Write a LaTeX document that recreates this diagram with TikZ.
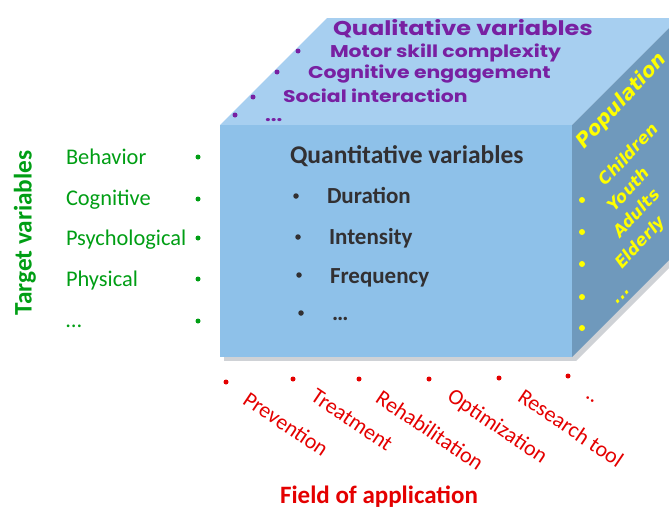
\documentclass[tikz,border=0pt]{standalone}
\usepackage{fontspec}
\setmainfont{Carlito}
\newfontfamily\poppfont{Poppins}
\newfontfamily\dvfont{DejaVu Sans}
\definecolor{frontc}{RGB}{142,193,233}
\definecolor{topc}{RGB}{167,207,240}
\definecolor{rightc}{RGB}{111,153,188}
\definecolor{shadc}{RGB}{175,180,186}
\definecolor{greenc}{RGB}{0,158,20}
\definecolor{redc}{RGB}{228,0,0}
\definecolor{purpc}{RGB}{120,32,162}
\definecolor{yellc}{RGB}{255,255,0}
\definecolor{darkc}{RGB}{50,48,50}
\tikzset{
  txt/.style={inner sep=0pt, outer sep=0pt},
  bul/.style={circle, inner sep=0pt, minimum size=5pt},
  gbul/.style={bul, fill=greenc},
  rbul/.style={bul, fill=redc},
  pbul/.style={bul, fill=purpc},
  ybul/.style={bul, fill=yellc, minimum size=6pt},
  dbul/.style={bul, fill=darkc, minimum size=5.5pt},
  gtxt/.style={txt, anchor=base west, text=greenc, font=\fontsize{22.4}{26}\selectfont},
  rtxt/.style={txt, text=redc, rotate=-34, font=\fontsize{22}{24}\selectfont},
  dtxt/.style={txt, anchor=base west, text=darkc, font=\fontsize{23}{26}\selectfont\bfseries},
  ptxt/.style={txt, anchor=base west, xscale=1.2, text=purpc, font=\poppfont\fontsize{17}{20}\selectfont\bfseries},
  ytxt/.style={txt, text=yellc, rotate=47, font=\dvfont\fontsize{16.5}{18}\selectfont\bfseries\itshape},
}
\begin{document}
\begin{tikzpicture}[x=1pt,y=-1pt]
\useasboundingbox (0,0) rectangle (669,506);
\begin{scope}
\clip (0,0) rectangle (669,506);
\fill[shadc, opacity=0.6] (224,128) rectangle (576,361);
\fill[shadc, opacity=0.6] (576,128) -- (683,21) -- (683,254) -- (576,361) -- cycle;
\fill[topc] (220,125) -- (327,18) -- (679,18) -- (572,125) -- cycle;
\fill[rightc] (572,125) -- (679,18) -- (679,250) -- (572,357) -- cycle;
\fill[frontc] (220,125) rectangle (572,357);
\end{scope}

% top face
\node[ptxt, font=\poppfont\fontsize{20}{22}\selectfont\bfseries] (qual) at (333,35) {Qualitative variables};
\node[pbul] (pb1) at (298,51) {};
\node[ptxt] (pt1) at (330,57) {Motor skill complexity};
\node[pbul] (pb2) at (277,72) {};
\node[ptxt] (pt2) at (308,78) {Cognitive engagement};
\node[pbul] (pb3) at (253,97) {};
\node[ptxt] (pt3) at (283,102) {Social interaction};
\node[pbul] (pb4) at (235,115) {};
\node[ptxt] (pt4) at (265,121) {...};

% front face
\node[dtxt, font=\fontsize{25.5}{28}\selectfont\bfseries] (quant) at (290,163) {Quantitative variables};
\node[dbul] (db1) at (296,196) {};
\node[dtxt] (dt1) at (327,203) {Duration};
\node[dbul] (db2) at (298,237) {};
\node[dtxt] (dt2) at (329,244) {Intensity};
\node[dbul] (db3) at (299,275) {};
\node[dtxt] (dt3) at (330,283) {Frequency};
\node[dbul] (db4) at (301,313) {};
\node[dtxt] (dt4) at (332,320) {\ldots};

% right face
\node[ytxt, font=\dvfont\fontsize{20}{22}\selectfont\bfseries\itshape] (pop) at (622,101) {Population};
\node[ytxt] (yt1) at (628,154) {Children};
\node[ytxt] (yt2) at (628,189) {Youth};
\node[ytxt] (yt3) at (636,213) {Adults};
\node[ytxt] (yt4) at (641,243) {Elderly};
\node[ytxt] (yt5) at (623,297) {...};
\node[ybul] (yb1) at (582,200) {};
\node[ybul] (yb2) at (582,232) {};
\node[ybul] (yb3) at (582,264) {};
\node[ybul] (yb4) at (582,297) {};
\node[ybul] (yb5) at (582,328) {};

% left
\node[txt, rotate=90, text=greenc, font=\fontsize{25.3}{28}\selectfont\bfseries] (target) at (25,233) {Target variables};
\node[gtxt] (g1) at (66,164) {Behavior};
\node[gtxt] (g2) at (66,205) {Cognitive};
\node[gtxt] (g3) at (66,245) {Psychological};
\node[gtxt] (g4) at (66,286) {Physical};
\node[gtxt] (g5) at (66,327) {\ldots};
\node[gbul] (gb1) at (198,157) {};
\node[gbul] (gb2) at (198,199) {};
\node[gbul] (gb3) at (198,238) {};
\node[gbul] (gb4) at (198,279) {};
\node[gbul] (gb5) at (198,321) {};

% bottom
\node[rbul] (rb1) at (226,382) {};
\node[rbul] (rb2) at (293,379) {};
\node[rbul] (rb3) at (359,379) {};
\node[rbul] (rb4) at (429,379) {};
\node[rbul] (rb5) at (499,378) {};
\node[rbul] (rb6) at (568,376) {};
\node[rtxt] (r1) at (286,424) {Prevention};
\node[rtxt] (r2) at (352,420) {Treatment};
\node[rtxt] (r3) at (430,430) {Rehabilitation};
\node[rtxt] (r4) at (497,427) {Optimization};
\node[rtxt] (r5) at (571,428) {Research tool};
\node[rtxt] (r6) at (590,400) {..};
\node[txt, anchor=base, text=redc, font=\fontsize{25}{28}\selectfont\bfseries] (field) at (379,503) {Field of application};
\end{tikzpicture}
\end{document}
